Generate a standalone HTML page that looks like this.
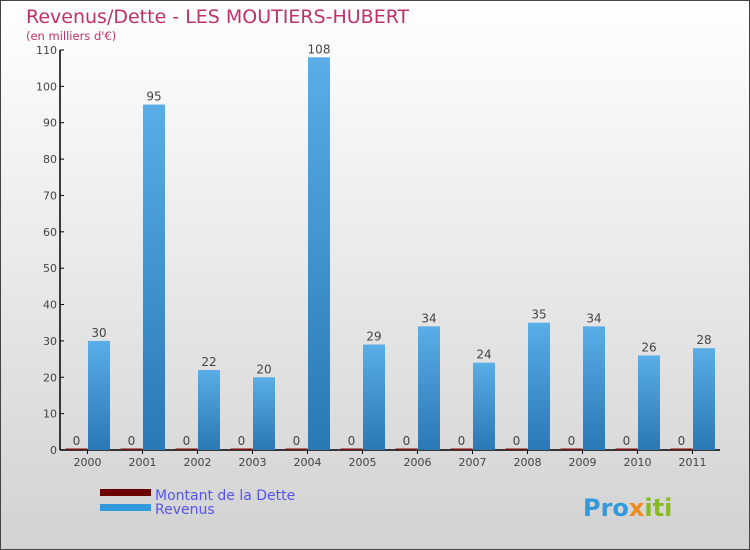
<!DOCTYPE html>
<html><head><meta charset="utf-8"><style>
body{margin:0}
#wrap{width:750px;height:550px;position:relative;overflow:hidden;font-family:"DejaVu Sans","Liberation Sans",sans-serif}
</style></head><body>
<div id="wrap">
<svg id="chart" width="750" height="550" xmlns="http://www.w3.org/2000/svg">
<defs>
<linearGradient id="bg" x1="0" y1="0" x2="0" y2="1"><stop offset="0" stop-color="#ffffff"/><stop offset="1" stop-color="#d2d2d2"/></linearGradient>
<linearGradient id="bar" x1="0" y1="0" x2="0" y2="1"><stop offset="0" stop-color="#5aade6"/><stop offset="1" stop-color="#2a78b4"/></linearGradient>
</defs>
<rect x="0.5" y="0.5" width="749" height="549" fill="url(#bg)" stroke="#444"/>
<text x="26" y="23" font-size="19" fill="#c0306a">Revenus/Dette - LES MOUTIERS-HUBERT</text>
<text x="26" y="40" font-size="11.5" fill="#c0306a">(en milliers d'€)</text>
<g id="axes"></g>
<g id="bars"></g>
<g>
<rect x="100" y="489" width="51" height="7" fill="#6b0000"/>
<text x="155" y="500" font-size="14" fill="#5555ee">Montant de la Dette</text>
<rect x="100" y="504" width="51" height="7" fill="#3399dd"/>
<text x="155" y="514" font-size="14" fill="#5555ee">Revenus</text>
</g>
<text x="583" y="516" font-size="24" font-weight="bold" fill="#3399dd">Pro<tspan fill="#f08a1c">x</tspan><tspan fill="#88bb22">iti</tspan></text>
</svg>
</div>
<script>
const years=["2000","2001","2002","2003","2004","2005","2006","2007","2008","2009","2010","2011"];
const revenus=[30,95,22,20,108,29,34,24,35,34,26,28];
const dette=[0,0,0,0,0,0,0,0,0,0,0,0];
const yTicks=[0,10,20,30,40,50,60,70,80,90,100,110];
const NS="http://www.w3.org/2000/svg";
const x0=60,band=55,yBase=450,yTop=50,yMax=110;
function y(v){return yBase-(v/yMax)*(yBase-yTop);}
function xc(i){return x0+band*i+band/2;}
function mk(tag,attrs,parent,txt){const e=document.createElementNS(NS,tag);for(const k in attrs)e.setAttribute(k,attrs[k]);if(txt!==undefined)e.textContent=txt;parent.appendChild(e);return e;}
const axes=document.getElementById('axes'),bars=document.getElementById('bars');
let a=mk('line',{x1:x0,y1:yTop,x2:x0,y2:yBase,stroke:'#000','stroke-width':1.5},axes);


a=mk('line',{x1:x0,y1:yBase,x2:x0+band*12,y2:yBase,stroke:'#000','stroke-width':1.5},axes);


yTicks.forEach(t=>{
  const tk=mk('line',{x1:x0,y1:y(t),x2:x0+4,y2:y(t),stroke:'#000'},axes);
  
  
  const tl=mk('text',{x:x0-3,y:y(t)+4,'font-size':11,fill:'#444','text-anchor':'end'},axes,t);
  
  
});
years.forEach((yr,i)=>{
  const c=xc(i);
  const tk=mk('line',{x1:c,y1:yBase,x2:c,y2:yBase+4,stroke:'#000'},axes);
  
  
  const tl=mk('text',{x:c,y:yBase+16,'font-size':11,fill:'#444','text-anchor':'middle'},axes,yr);
  
  
  const dv=dette[i];
  const db=mk('rect',{x:c-22,y:y(dv)-1.5,width:22,height:(yBase-y(dv))+1.5,fill:'#7a1010'},bars);
  
  
  const dl=mk('text',{x:c-11,y:y(dv)-5,'font-size':12,fill:'#444','text-anchor':'middle'},bars,dv);
  
  
  const v=revenus[i];
  const rb=mk('rect',{x:c+0.5,y:y(v),width:22,height:yBase-y(v),fill:'url(#bar)'},bars);
  
  
  const rl=mk('text',{x:c+11.5,y:y(v)-4,'font-size':12,fill:'#444','text-anchor':'middle'},bars,v);
  
  
});
</script>
</body></html>
